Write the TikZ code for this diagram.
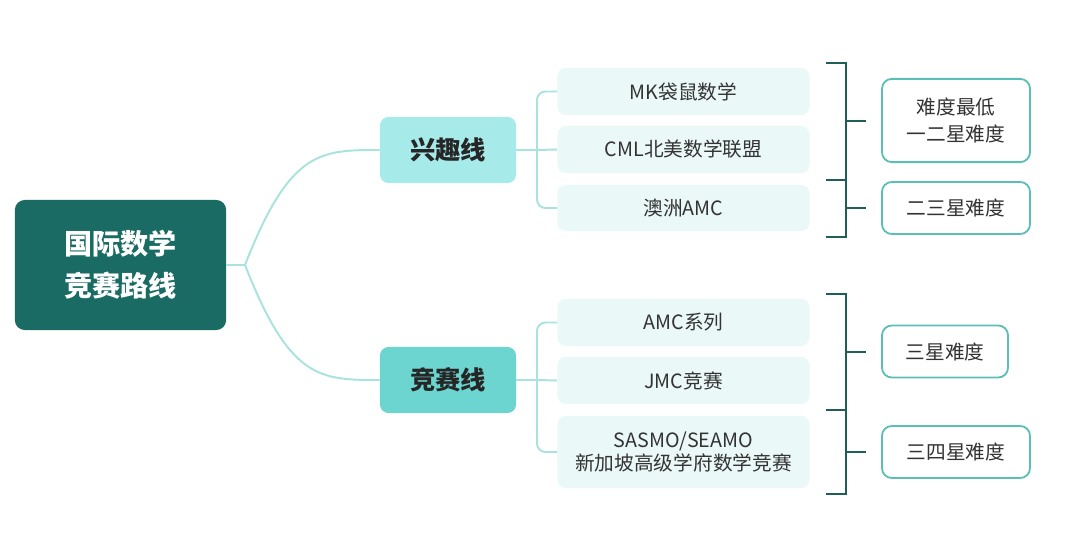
\documentclass[tikz,border=0pt]{standalone}
\usepackage{fontspec}
\setmainfont{Noto Sans CJK SC}
\begin{document}
\begin{tikzpicture}[x=0.025cm,y=-0.025cm,
 leaf/.style={rounded corners=6pt,fill=leafc,draw=none,minimum width=6.3cm,font=\fontsize{14}{17}\selectfont,text=black!80,align=center},
 mid/.style={rounded corners=6pt,minimum width=3.4cm,minimum height=1.65cm,font=\bfseries\fontsize{18}{20}\selectfont,text=black!85},
 diff/.style={rounded corners=7pt,draw=outc,line width=1.3pt,fill=white,font=\fontsize{14}{19}\selectfont,text=black!80,align=center,minimum height=1.3cm},
 con/.style={draw=linec,line width=1.4pt},
 br/.style={draw=brc,line width=1.6pt}]
\definecolor{leafc}{HTML}{EAF8F7}
\definecolor{outc}{HTML}{5CBFB5}
\definecolor{linec}{HTML}{A9E3DE}
\definecolor{brc}{HTML}{1F5F58}
\useasboundingbox (0,0) rectangle (1080,545);
\node[rounded corners=7pt,fill={rgb,255:red,26;green,107;blue,99},minimum width=5.28cm,minimum height=3.25cm,text=white,font=\bfseries\fontsize{20}{30}\selectfont,align=center] (root) at (120.5,265) {国际数学\\竞赛路线};
\node[mid,fill={rgb,255:red,166;green,234;blue,234}] (xq) at (448,150) {兴趣线};
\node[mid,fill={rgb,255:red,108;green,213;blue,207}] (js) at (448,380) {竞赛线};
\node[leaf,minimum height=1.18cm] (mk) at (683.5,91.5) {MK袋鼠数学};
\node[leaf,minimum height=1.18cm] (cml) at (683.5,149.5) {CML北美数学联盟};
\node[leaf,minimum height=1.15cm] (au) at (683.5,208) {澳洲AMC};
\node[leaf,minimum height=1.18cm] (amc) at (683.5,322.5) {AMC系列};
\node[leaf,minimum height=1.18cm] (jmc) at (683.5,380.5) {JMC竞赛};
\node[leaf,minimum height=1.8cm] (sas) at (683.5,452) {SASMO/SEAMO\\新加坡高级学府数学竞赛};
\coordinate (b) at (245,265);
\draw[con] (root.east) -- (b) .. controls (290,150) and (320,150) .. (xq.west);
\draw[con] (b) .. controls (290,380) and (320,380) .. (js.west);
\coordinate (u) at (537,150);
\coordinate (l) at (537,380);
\draw[con] (xq.east) -- (u);
\draw[con] (js.east) -- (l);
\draw[con,rounded corners=6pt] (mk.west) -| (u) |- (au.west);
\draw[con] (u) -- (cml.west);
\draw[con,rounded corners=6pt] (amc.west) -| (l) |- (sas.west);
\draw[con] (l) -- (jmc.west);
% brackets
\draw[br] (826,63) -- (846,63) -- (846,237) -- (826,237);
\draw[br] (826,180) -- (846,180);
\draw[br] (826,294) -- (846,294) -- (846,494) -- (826,494);
\draw[br] (826,410) -- (846,410);
\node[diff,minimum width=3.7cm,minimum height=2.08cm] (d1) at (956,120.5) {难度最低\\一二星难度};
\node[diff,minimum width=3.7cm] (d2) at (956,208) {二三星难度};
\node[diff,minimum width=3.15cm] (d3) at (945,351.5) {三星难度};
\node[diff,minimum width=3.7cm] (d4) at (956,452) {三四星难度};
\draw[br] (846,121) -- (866,121);
\draw[br] (846,208) -- (866,208);
\draw[br] (846,352) -- (866,352);
\draw[br] (846,452) -- (866,452);
\end{tikzpicture}
\end{document}
